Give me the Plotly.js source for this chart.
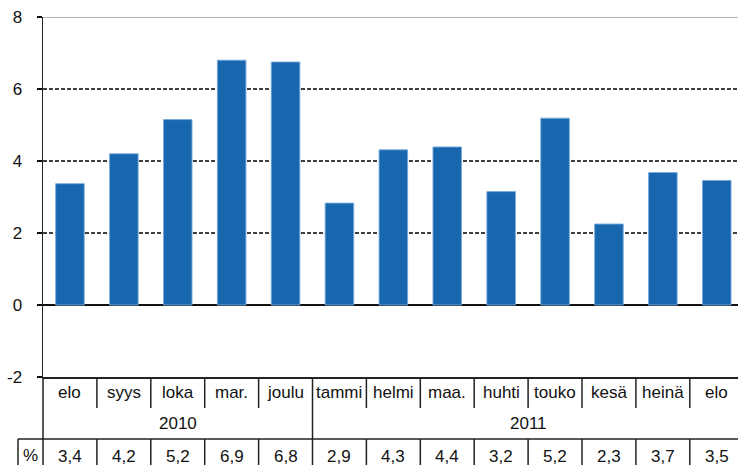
<!DOCTYPE html>
<html>
<head>
<meta charset="utf-8">
<script src="https://cdn.plot.ly/plotly-3.0.1.min.js"></script>
<style>
html,body{margin:0;padding:0;background:#fff;}
#chart{width:738px;height:465px;}
</style>
</head>
<body>
<div id="chart"></div>
<script>
// ---- data ----
const months = ['elo','syys','loka','mar.','joulu','tammi','helmi','maa.','huhti','touko','kesä','heinä','elo'];
const years = ['2010','2011'];
const yearMonthCounts = [5, 8];
const barValues = [3.37, 4.2, 5.15, 6.8, 6.75, 2.83, 4.31, 4.39, 3.15, 5.19, 2.25, 3.68, 3.46];
const pctLabels = ['3,4','4,2','5,2','6,9','6,8','2,9','4,3','4,4','3,2','5,2','2,3','3,7','3,5'];
const yTicks = [-2, 0, 2, 4, 6, 8];
const gridVals = [2, 4, 6];

// ---- layout helpers (pixel geometry) ----
const W = 738, H = 465;
const mL = 43, mR = 0, mT = 17, mB = 88;
const plotH = H - mT - mB;          // 360
const plotW = W - mL - mR;          // 695
const catW = 53.9;
const plotBottom = H - mB;
const py = p => (plotBottom - p) / plotH;   // pixel y -> paper y
const px = p => (p - mL) / plotW;           // pixel x -> paper x

const xIdx = months.map((_, i) => i);
const font = 'Liberation Sans, Arial, sans-serif';
const txtColor = '#111';
const lineColor = '#222';
const tableFontSize = 17;

const shapes = [];
// top border at 8
shapes.push({type:'line', xref:'paper', yref:'y', x0:0, x1:1, y0:yTicks[yTicks.length-1], y1:yTicks[yTicks.length-1], line:{color:'#9a9a9a', width:1.5}});
// dashed gridlines
gridVals.forEach(v => shapes.push({type:'line', xref:'paper', yref:'y', x0:0, x1:1, y0:v, y1:v, layer:'below', line:{color:'#000', width:1.5, dash:'4px,2px'}}));

// year boundaries
const yearEnds = [];
let acc = 0;
yearMonthCounts.forEach(c => { acc += c; yearEnds.push(acc - 0.5); });

// month row separators + % row separators
for (let i = 0; i < months.length; i++) {
  const xs = i + 0.5;
  const isYearBoundary = yearEnds.indexOf(xs) >= 0;
  if (isYearBoundary) {
    shapes.push({type:'line', xref:'x', yref:'paper', x0:xs, x1:xs, y0:py(377), y1:py(480), line:{color:lineColor, width:1.5}});
  } else {
    shapes.push({type:'line', xref:'x', yref:'paper', x0:xs, x1:xs, y0:py(377), y1:py(408), line:{color:lineColor, width:1.5}});
    shapes.push({type:'line', xref:'x', yref:'paper', x0:xs, x1:xs, y0:py(439), y1:py(480), line:{color:lineColor, width:1.5}});
  }
}
// horizontal line above % row
shapes.push({type:'line', xref:'paper', yref:'paper', x0:px(18), x1:1, y0:py(439), y1:py(439), line:{color:lineColor, width:1.5}});
// % cell left border
shapes.push({type:'line', xref:'paper', yref:'paper', x0:px(18), x1:px(18), y0:py(439), y1:py(480), line:{color:lineColor, width:1.5}});
// axis line extension below plot
shapes.push({type:'line', xref:'paper', yref:'paper', x0:0, x1:0, y0:0, y1:py(480), line:{color:lineColor, width:1.5}});

const annotations = [];
months.forEach((m, i) => annotations.push({x:i, y:py(392), xref:'x', yref:'paper', text:m, showarrow:false, yanchor:'middle', xanchor:'center', font:{family:font, size:tableFontSize, color:txtColor}}));
let start = 0;
years.forEach((yr, k) => {
  const end = start + yearMonthCounts[k] - 1;
  annotations.push({x:(start + end) / 2, y:py(423), xref:'x', yref:'paper', text:yr, showarrow:false, yanchor:'middle', xanchor:'center', font:{family:font, size:tableFontSize, color:txtColor}});
  start = end + 1;
});
annotations.push({x:px(30), y:py(455), xref:'paper', yref:'paper', text:'%', showarrow:false, yanchor:'middle', xanchor:'center', font:{family:font, size:tableFontSize, color:txtColor}});
pctLabels.forEach((t, i) => annotations.push({x:i, y:py(456), xref:'x', yref:'paper', text:t, showarrow:false, yanchor:'middle', xanchor:'center', font:{family:font, size:tableFontSize, color:txtColor}}));

const trace = {
  type:'bar',
  x:xIdx,
  y:barValues,
  marker:{color:'#1766AE', line:{color:'rgba(120,170,220,0.9)', width:1}},
  hoverinfo:'skip'
};

const layout = {
  width:W, height:H,
  margin:{l:mL, r:mR, t:mT, b:mB, pad:0},
  paper_bgcolor:'#fff', plot_bgcolor:'#fff',
  showlegend:false,
  bargap:0.47,
  xaxis:{
    type:'linear',
    range:[-0.5, -0.5 + plotW / catW],
    showticklabels:false, ticks:'', showgrid:false, zeroline:false,
    showline:true, linecolor:lineColor, linewidth:1.5,
    fixedrange:true
  },
  yaxis:{
    range:[yTicks[0], yTicks[yTicks.length-1]],
    tickvals:yTicks,
    ticktext:yTicks.map(String),
    ticks:'outside', ticklen:5, tickcolor:'#111', tickwidth:1.5,
    ticklabelstandoff:11,
    showgrid:false,
    zeroline:true, zerolinecolor:'#111', zerolinewidth:1.5,
    showline:true, linecolor:lineColor, linewidth:1.5,
    tickfont:{family:font, size:17, color:txtColor},
    fixedrange:true
  },
  shapes:shapes,
  annotations:annotations
};

Plotly.newPlot('chart', [trace], layout, {staticPlot:true, displayModeBar:false});
</script>
</body>
</html>
